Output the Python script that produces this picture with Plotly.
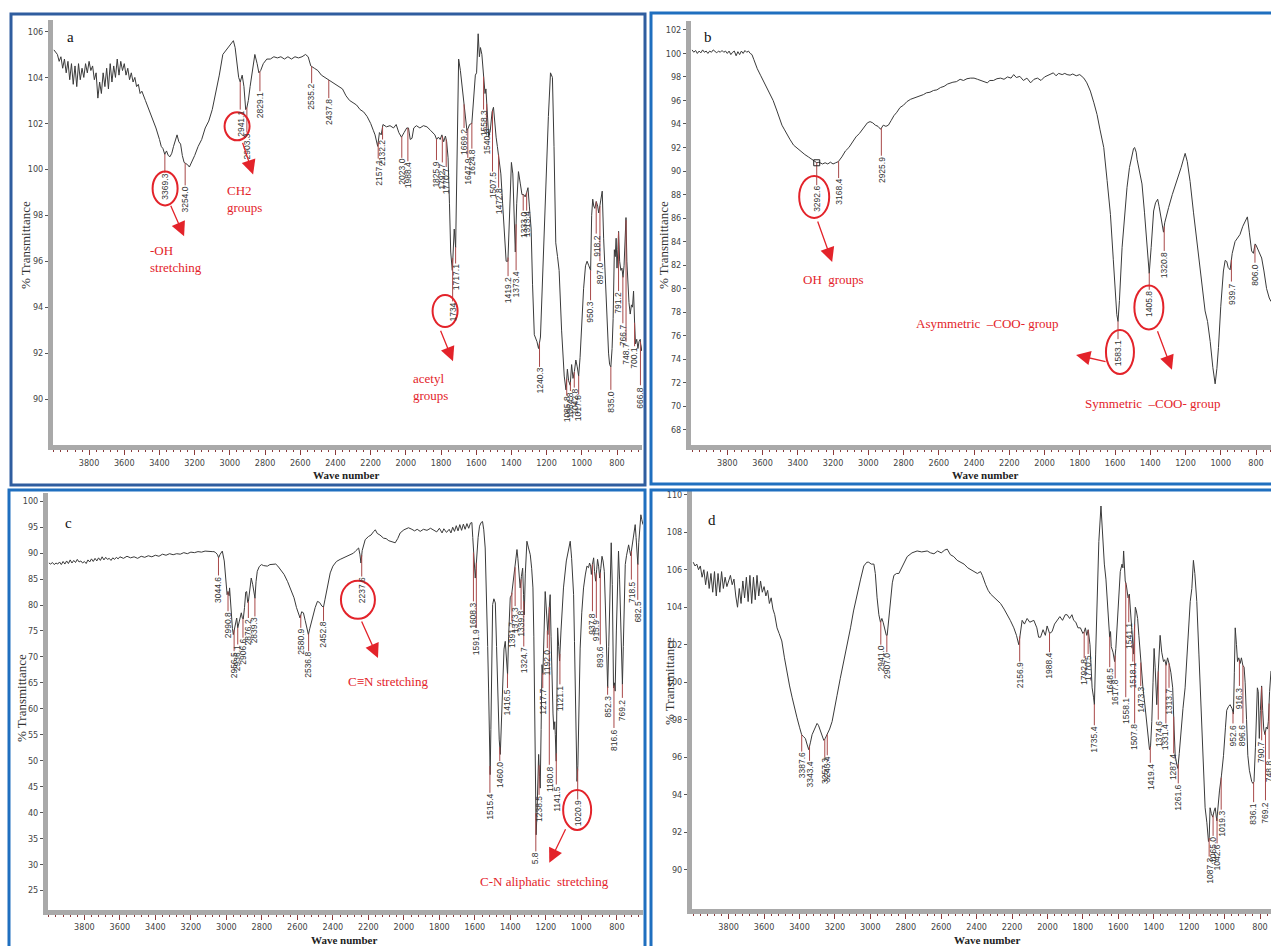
import numpy as np
import plotly.graph_objects as go

# ---------------- Panel a spectrum (wavenumber, %T) ----------------
spectrum_a = [
    (4000, 105.2), (3990, 105.1), (3980, 105.0), (3970, 104.7), (3960, 104.9), (3950, 104.4), (3940, 104.8),
    (3930, 104.2), (3920, 104.7), (3910, 103.9), (3900, 104.6), (3890, 103.7), (3880, 104.5), (3870, 103.6),
    (3860, 104.6), (3850, 103.9), (3840, 104.4), (3830, 104.0), (3820, 104.6), (3810, 104.2), (3800, 104.7),
    (3790, 104.3), (3780, 104.5), (3770, 103.9), (3760, 104.2), (3750, 103.1), (3740, 103.8), (3730, 103.3),
    (3720, 104.2), (3710, 103.6), (3700, 104.4), (3690, 103.5), (3680, 104.6), (3670, 103.8), (3660, 104.5),
    (3650, 104.0), (3640, 104.8), (3630, 104.1), (3620, 104.7), (3610, 104.3), (3600, 104.6), (3590, 104.1),
    (3580, 104.4), (3570, 103.9), (3560, 104.2), (3550, 103.8), (3540, 104.0), (3530, 103.6), (3520, 103.7),
    (3510, 103.3), (3500, 103.4), (3480, 103.0), (3460, 102.6), (3440, 102.2), (3420, 101.8), (3400, 101.3),
    (3390, 101.0), (3380, 100.9), (3370, 100.65), (3360, 100.8), (3350, 100.6), (3340, 100.55), (3330, 100.7),
    (3320, 101.0), (3310, 101.3), (3300, 101.5), (3290, 101.2), (3280, 101.1), (3270, 100.6), (3260, 100.3),
    (3250, 100.25), (3240, 100.2), (3230, 100.1), (3220, 100.25), (3200, 100.6), (3180, 101.0), (3160, 101.3),
    (3140, 101.8), (3120, 102.1), (3100, 102.6), (3080, 103.3), (3060, 104.1), (3040, 105.0), (3020, 105.2),
    (3000, 105.4), (2990, 105.5), (2980, 105.6), (2970, 105.3), (2960, 104.7), (2950, 104.0), (2941, 103.8),
    (2930, 104.1), (2920, 103.6), (2910, 102.6), (2903, 102.7), (2895, 103.0), (2885, 103.6), (2870, 104.5),
    (2858, 105.0), (2845, 104.6), (2835, 104.2), (2825, 104.3), (2810, 104.6), (2790, 104.8), (2770, 104.8),
    (2750, 104.9), (2730, 104.85), (2710, 104.9), (2690, 104.8), (2670, 104.9), (2650, 104.8), (2630, 104.9),
    (2610, 104.85), (2590, 104.9), (2570, 105.0), (2555, 104.9), (2540, 104.5), (2520, 104.4), (2500, 104.3),
    (2480, 104.1), (2460, 104.0), (2440, 103.9), (2420, 103.8), (2400, 103.7), (2380, 103.6), (2360, 103.5),
    (2340, 103.2), (2320, 103.0), (2300, 102.9), (2280, 102.8), (2260, 102.6), (2240, 102.5), (2220, 102.3),
    (2200, 102.0), (2185, 101.7), (2175, 101.5), (2160, 101.0), (2150, 101.6), (2140, 101.5), (2130, 101.95),
    (2110, 101.85), (2090, 101.9), (2070, 101.8), (2055, 101.95), (2040, 101.6), (2025, 101.4), (2010, 101.6),
    (1995, 101.8), (1985, 101.8), (1975, 101.3), (1965, 101.35), (1955, 101.8), (1940, 101.9), (1920, 101.8),
    (1900, 101.9), (1880, 101.85), (1860, 101.7), (1845, 101.6), (1835, 101.5), (1825, 101.3), (1815, 101.4),
    (1805, 101.3), (1795, 101.5), (1785, 101.2), (1775, 101.45), (1768, 101.2), (1760, 100.5), (1752, 98.5),
    (1745, 96.4), (1736, 95.6), (1730, 97.2), (1725, 97.4), (1717, 96.6), (1710, 99.5), (1700, 104.8),
    (1690, 104.3), (1680, 103.6), (1670, 102.9), (1660, 102.0), (1653, 101.7), (1645, 101.8), (1638, 101.95),
    (1625, 102.0), (1615, 103.0), (1605, 104.1), (1598, 104.2), (1589, 105.9), (1582, 104.9), (1576, 105.3),
    (1568, 105.0), (1558, 104.0), (1550, 103.3), (1545, 103.5), (1536, 102.1), (1529, 101.4), (1520, 101.7),
    (1510, 102.5), (1502, 102.7), (1495, 101.9), (1487, 101.4), (1480, 101.0), (1472, 100.6), (1460, 99.8),
    (1450, 98.5), (1440, 97.0), (1430, 96.0), (1420, 96.0), (1410, 98.0), (1400, 100.3), (1392, 99.8),
    (1385, 98.5), (1378, 96.4), (1370, 98.5), (1360, 99.9), (1350, 99.4), (1340, 98.9), (1330, 98.9),
    (1322, 98.8), (1313, 99.0), (1306, 99.2), (1298, 98.4), (1288, 97.4), (1280, 95.0), (1270, 92.8),
    (1255, 92.5), (1246, 92.2), (1235, 92.7), (1220, 96.0), (1205, 99.4), (1190, 102.3), (1178, 104.2),
    (1167, 104.0), (1158, 101.0), (1148, 96.8), (1138, 96.2), (1129, 95.6), (1115, 93.0), (1100, 91.0),
    (1090, 90.4), (1082, 91.3), (1075, 90.8), (1066, 90.6), (1058, 91.5), (1050, 90.9), (1042, 91.2),
    (1034, 91.7), (1026, 91.4), (1018, 91.0), (1010, 91.8), (1000, 93.5), (990, 94.8), (979, 95.8),
    (970, 96.0), (960, 95.8), (950, 95.6), (944, 98.0), (938, 98.7), (932, 98.4), (926, 98.3), (918, 98.6),
    (910, 98.4), (904, 98.1), (897, 98.4), (889, 98.8), (884, 99.05), (876, 97.0), (866, 95.1), (856, 93.0),
    (848, 92.0), (842, 91.5), (835, 91.4), (828, 92.2), (822, 93.5), (815, 96.5), (810, 96.2), (805, 97.0),
    (800, 95.7), (795, 96.5), (791, 97.3), (785, 96.0), (778, 95.6), (772, 95.7), (766, 95.3), (760, 95.8),
    (755, 97.0), (749, 97.9), (744, 96.0), (738, 94.9), (732, 94.2), (725, 93.7), (718, 94.1), (712, 94.0),
    (706, 94.7), (700, 93.3), (695, 92.4), (688, 92.6), (681, 92.2), (675, 92.5), (668, 92.6), (662, 92.1),
    (655, 92.4),
]
peaks_a = [3369.3, 3254.0, 2941.1, 2903.3, 2829.1, 2535.2, 2437.8, 2157.1, 2132.2, 2023.0, 1988.4, 1825.9,
           1792.7, 1770.7, 1734.0, 1717.1, 1669.2, 1647.9, 1624.8, 1558.3, 1540.8, 1507.5, 1472.8, 1419.2,
           1373.4, 1333.0, 1313.4, 1240.3, 1085.8, 1064.8, 1042.8, 1017.8, 950.3, 918.2, 897.0, 835.0,
           791.2, 766.7, 748.7, 700.1, 666.8]
peak_text_a = ["3369.3", "3254.0", "2941.1", "2903.3", "2829.1", "2535.2", "2437.8", "2157.1", "2132.2",
               "2023.0", "1988.4", "1825.9", "1792.7", "1770.7", "1734", "1717.1", "1669.2", "1647.9",
               "1624.8", "1558.3", "1540.8", "1507.5", "1472.8", "1419.2", "1373.4", "1333.0", "1313.4",
               "1240.3", "1085.8", "1064.8", "1042.8", "1017.8", "950.3", "918.2", "897.0", "835.0",
               "791.2", "766.7", "748.7", "700.1", "666.8"]

# ---------------- Panel b spectrum ----------------
spectrum_b = [
    (4000, 100.3), (3990, 100.1), (3980, 100.25), (3970, 100.0), (3960, 100.2), (3950, 100.05), (3940, 100.3),
    (3930, 100.1), (3920, 100.2), (3910, 100.0), (3900, 100.2), (3890, 100.1), (3880, 100.3), (3870, 100.15),
    (3860, 100.05), (3850, 100.2), (3840, 100.1), (3830, 100.25), (3820, 100.1), (3810, 100.2), (3800, 100.0),
    (3790, 100.2), (3780, 99.9), (3770, 100.1), (3760, 100.2), (3750, 99.8), (3740, 100.15), (3730, 99.9),
    (3720, 100.2), (3710, 100.0), (3700, 100.25), (3690, 100.1), (3680, 100.2), (3670, 100.0), (3660, 99.9),
    (3650, 99.5), (3640, 99.0), (3630, 98.7), (3610, 98.1), (3594, 97.6), (3575, 97.0), (3556, 96.5),
    (3540, 96.0), (3518, 95.1), (3505, 94.5), (3490, 93.9), (3475, 93.5), (3462, 93.1), (3445, 92.7),
    (3424, 92.2), (3400, 91.9), (3380, 91.6), (3360, 91.4), (3340, 91.2), (3320, 91.0), (3300, 90.8),
    (3292, 90.7), (3280, 90.75), (3260, 90.6), (3245, 90.7), (3230, 90.6), (3215, 90.75), (3200, 90.6),
    (3185, 90.7), (3170, 90.8), (3150, 91.2), (3130, 91.7), (3110, 92.0), (3090, 92.5), (3070, 92.9),
    (3050, 93.2), (3027, 93.7), (3005, 94.1), (2990, 94.2), (2975, 94.1), (2960, 93.9), (2945, 93.8),
    (2930, 93.55), (2915, 93.9), (2900, 93.8), (2886, 93.9), (2870, 94.3), (2855, 94.7), (2838, 95.0),
    (2820, 95.4), (2800, 95.6), (2781, 95.9), (2760, 96.1), (2740, 96.2), (2720, 96.35), (2700, 96.45),
    (2687, 96.5), (2670, 96.65), (2650, 96.7), (2630, 96.85), (2611, 96.9), (2590, 97.1), (2570, 97.2),
    (2550, 97.4), (2536, 97.5), (2520, 97.55), (2500, 97.6), (2479, 97.8), (2460, 97.7), (2440, 97.85),
    (2420, 97.9), (2400, 97.9), (2380, 97.8), (2360, 97.7), (2340, 97.6), (2325, 97.5), (2310, 97.7),
    (2290, 97.7), (2270, 97.85), (2249, 97.9), (2230, 97.8), (2210, 98.0), (2190, 97.9), (2175, 98.2),
    (2160, 97.95), (2140, 98.05), (2120, 97.7), (2100, 97.9), (2079, 97.5), (2060, 97.8), (2040, 97.9),
    (2020, 97.7), (2000, 98.0), (1985, 98.1), (1966, 98.2), (1950, 98.35), (1935, 98.1), (1920, 98.3),
    (1900, 98.2), (1885, 98.3), (1872, 98.2), (1855, 98.15), (1840, 98.25), (1820, 98.1), (1800, 98.2),
    (1785, 98.0), (1777, 97.9), (1760, 97.5), (1750, 97.1), (1740, 96.8), (1720, 95.8), (1702, 94.8),
    (1685, 93.5), (1664, 92.0), (1645, 89.2), (1626, 86.3), (1610, 82.5), (1598, 79.3), (1590, 77.8),
    (1583, 77.2), (1575, 79.0), (1560, 83.5), (1545, 86.5), (1532, 88.6), (1518, 90.3), (1504, 91.4),
    (1495, 91.9), (1489, 92.0), (1480, 91.6), (1475, 91.0), (1466, 90.3), (1456, 89.7), (1447, 88.9),
    (1433, 86.5), (1419, 83.5), (1406, 81.3), (1395, 83.5), (1381, 86.6), (1370, 87.3), (1358, 87.6),
    (1350, 87.0), (1343, 86.3), (1335, 85.5), (1325, 84.8), (1318, 85.6), (1308, 86.3), (1296, 86.9),
    (1275, 88.0), (1249, 89.1), (1225, 90.3), (1210, 91.1), (1202, 91.5), (1190, 90.8), (1174, 89.1),
    (1155, 86.5), (1136, 84.0), (1115, 81.2), (1100, 79.4), (1089, 78.1), (1075, 77.2), (1060, 75.5),
    (1045, 73.3), (1032, 71.9), (1022, 73.2), (1013, 75.0), (1000, 78.5), (985, 81.5), (975, 82.4),
    (966, 82.3), (958, 81.8), (947, 81.6), (935, 83.0), (919, 84.0), (905, 84.3), (891, 84.6), (875, 85.3),
    (860, 85.8), (849, 86.1), (838, 84.8), (825, 83.2), (815, 83.0), (805, 83.8), (800, 83.7), (785, 83.2),
    (768, 82.6), (755, 81.5), (740, 80.0), (725, 79.2), (715, 78.9),
]
peaks_b = [3292.6, 3168.4, 2925.9, 1583.1, 1405.8, 1320.8, 939.7, 806.0]
peak_text_b = ["3292.6", "3168.4", "2925.9", "1583.1", "1405.8", "1320.8", "939.7", "806.0"]

# ---------------- Panel c spectrum ----------------
spectrum_c = [
    (4000, 88.1), (3990, 87.9), (3980, 88.2), (3970, 87.8), (3960, 88.1), (3950, 87.9), (3940, 88.3),
    (3930, 87.8), (3920, 88.4), (3910, 87.9), (3900, 88.5), (3890, 88.0), (3880, 88.7), (3870, 88.1),
    (3860, 88.6), (3850, 88.2), (3840, 88.8), (3830, 88.3), (3820, 88.5), (3810, 88.1), (3800, 88.4),
    (3790, 88.0), (3780, 88.7), (3770, 88.3), (3760, 88.9), (3750, 88.4), (3740, 89.0), (3730, 88.5),
    (3720, 89.1), (3710, 88.6), (3700, 89.3), (3690, 88.7), (3680, 89.2), (3670, 88.8), (3660, 89.0),
    (3650, 88.6), (3640, 89.1), (3630, 88.8), (3620, 89.2), (3610, 88.9), (3600, 89.3), (3580, 89.0),
    (3560, 89.4), (3540, 89.1), (3520, 89.3), (3500, 89.0), (3480, 89.4), (3460, 89.2), (3440, 89.5),
    (3420, 89.3), (3400, 89.6), (3380, 89.4), (3360, 89.8), (3340, 89.6), (3320, 89.9), (3300, 89.7),
    (3280, 89.9), (3260, 89.8), (3240, 90.1), (3220, 89.9), (3200, 90.2), (3180, 90.1), (3160, 90.3),
    (3140, 90.2), (3120, 90.4), (3100, 90.3), (3080, 90.3), (3070, 90.3), (3060, 90.1), (3050, 89.7),
    (3044, 89.1), (3035, 89.8), (3023, 90.4), (3012, 88.5), (3004, 85.9), (2996, 82.0), (2991, 82.6),
    (2985, 81.8), (2982, 83.3), (2976, 79.5), (2972, 78.1), (2966, 75.5), (2961, 74.3), (2955, 75.5),
    (2948, 76.2), (2942, 77.5), (2936, 75.6), (2929, 76.5), (2922, 77.2), (2916, 78.5), (2910, 77.5),
    (2905, 77.3), (2898, 79.5), (2891, 82.5), (2886, 82.6), (2880, 80.5), (2876, 80.7), (2868, 83.5),
    (2860, 85.2), (2852, 84.0), (2845, 82.0), (2839, 81.3), (2833, 84.5), (2826, 86.5), (2815, 87.4),
    (2803, 87.8), (2790, 87.6), (2775, 87.6), (2769, 87.5), (2755, 87.8), (2740, 87.9), (2722, 87.9),
    (2710, 87.5), (2695, 86.8), (2675, 85.9), (2655, 84.5), (2640, 83.2), (2619, 81.4), (2605, 79.5),
    (2592, 78.0), (2585, 77.5), (2576, 78.7), (2566, 78.5), (2556, 77.0), (2545, 75.0), (2538, 74.3),
    (2530, 75.5), (2516, 77.5), (2500, 79.5), (2487, 80.7), (2475, 80.5), (2462, 79.8), (2453, 79.6),
    (2445, 81.0), (2430, 83.5), (2415, 86.2), (2400, 87.5), (2380, 88.4), (2359, 88.8), (2335, 89.2),
    (2310, 89.5), (2284, 90.0), (2270, 90.5), (2255, 91.0), (2248, 89.8), (2242, 88.1), (2235, 90.5),
    (2218, 92.6), (2200, 93.2), (2185, 93.5), (2170, 94.2), (2161, 94.5), (2150, 93.8), (2135, 93.5),
    (2115, 92.9), (2100, 92.8), (2085, 92.4), (2065, 92.2), (2049, 92.0), (2035, 92.8), (2021, 93.9),
    (2000, 94.5), (1974, 94.9), (1955, 94.6), (1940, 94.3), (1925, 94.6), (1908, 94.2), (1890, 94.6),
    (1870, 94.4), (1850, 94.8), (1833, 94.5), (1815, 94.1), (1800, 94.8), (1785, 93.9), (1775, 94.7),
    (1760, 94.0), (1745, 94.6), (1735, 93.9), (1725, 95.0), (1715, 94.2), (1705, 95.3), (1695, 94.3),
    (1685, 95.5), (1675, 94.4), (1665, 95.6), (1655, 94.6), (1645, 95.7), (1635, 94.8), (1625, 95.8),
    (1617, 95.9), (1612, 93.0), (1607, 89.1), (1603, 87.5), (1598, 85.2), (1594, 87.0), (1589, 89.7),
    (1582, 93.0), (1574, 95.2), (1565, 95.9), (1557, 96.1), (1550, 94.5), (1542, 91.0), (1535, 83.0),
    (1528, 72.0), (1523, 64.0), (1518, 52.0), (1514, 47.3), (1510, 56.0), (1505, 70.0), (1500, 80.1),
    (1493, 81.2), (1485, 80.4), (1478, 72.0), (1470, 60.8), (1463, 54.0), (1457, 51.2), (1450, 58.0),
    (1442, 67.9), (1436, 71.5), (1429, 73.0), (1422, 69.0), (1416, 66.6), (1410, 74.0), (1401, 81.4),
    (1393, 82.0), (1386, 83.9), (1377, 85.9), (1370, 88.5), (1363, 90.7), (1358, 89.0), (1354, 87.1),
    (1349, 85.0), (1345, 83.3), (1338, 85.5), (1331, 87.1), (1326, 82.0), (1322, 78.1), (1316, 86.0),
    (1307, 92.3), (1298, 91.0), (1288, 89.7), (1280, 87.0), (1273, 83.3), (1268, 74.0), (1264, 64.0),
    (1259, 45.0), (1255, 35.7), (1250, 40.0), (1245, 48.0), (1241, 51.2), (1236, 47.0), (1232, 44.7),
    (1227, 56.0), (1222, 68.5), (1217, 66.6), (1210, 76.0), (1204, 82.6), (1199, 80.0), (1194, 75.6),
    (1189, 74.3), (1183, 78.5), (1176, 82.0), (1171, 74.0), (1166, 64.0), (1160, 59.0), (1155, 56.0),
    (1150, 57.5), (1147, 55.0), (1142, 49.9), (1138, 62.0), (1134, 75.6), (1128, 72.0), (1123, 69.2),
    (1115, 75.0), (1101, 83.3), (1085, 88.5), (1070, 91.5), (1063, 92.3), (1055, 89.0), (1049, 86.0),
    (1044, 82.0), (1039, 73.0), (1035, 65.3), (1030, 55.0), (1025, 46.0), (1020, 49.0), (1016, 57.6),
    (1011, 65.0), (1007, 71.7), (998, 78.5), (988, 83.3), (978, 85.8), (969, 87.5), (960, 87.2),
    (954, 88.1), (948, 87.5), (944, 85.9), (938, 87.8), (931, 89.1), (926, 86.5), (920, 84.6), (914, 86.8),
    (909, 88.8), (903, 87.5), (897, 85.2), (891, 87.0), (884, 89.4), (878, 88.5), (871, 86.5), (865, 80.0),
    (858, 70.0), (852, 64.0), (846, 72.0), (840, 84.0), (832, 92.0), (826, 84.0), (822, 72.0), (819, 64.0),
    (814, 65.0), (810, 63.4), (803, 75.0), (797, 86.0), (791, 90.4), (785, 85.0), (779, 75.0), (772, 65.0),
    (769, 64.7), (764, 72.0), (759, 82.0), (753, 87.8), (746, 89.5), (740, 91.0), (734, 91.6), (728, 90.5),
    (722, 89.5), (716, 91.0), (709, 93.0), (703, 94.5), (697, 95.5), (692, 93.0), (686, 89.0), (682, 87.8),
    (677, 92.0), (672, 95.0), (665, 97.4), (660, 96.5), (653, 95.5),
]
peaks_c = [3044.6, 2990.8, 2956.5, 2936.1, 2906.6, 2876.2, 2839.3, 2580.9, 2536.8, 2452.8, 2237.6, 1608.3,
           1591.9, 1515.4, 1460.0, 1416.5, 1391.7, 1373.3, 1339.8, 1324.7, 1256.8, 1238.5, 1217.7, 1192.0,
           1180.8, 1141.5, 1121.1, 1020.9, 937.8, 915.9, 893.6, 852.3, 816.6, 769.2, 718.5, 682.5]
peak_text_c = ["3044.6", "2990.8", "2956.5", "2936.1", "2906.6", "2876.2", "2839.3", "2580.9", "2536.8",
               "2452.8", "2237.6", "1608.3", "1591.9", "1515.4", "1460.0", "1416.5", "1391.7", "1373.3",
               "1339.8", "1324.7", "5.8", "1238.5", "1217.7", "1192.0", "1180.8", "1141.5", "1121.1",
               "1020.9", "937.8", "915.9", "893.6", "852.3", "816.6", "769.2", "718.5", "682.5"]

# ---------------- Panel d spectrum ----------------
spectrum_d = [
    (4000, 106.4), (3990, 106.2), (3980, 106.3), (3970, 106.0), (3960, 106.2), (3950, 105.6), (3940, 106.0),
    (3930, 105.2), (3920, 105.9), (3910, 105.0), (3900, 105.8), (3890, 104.8), (3880, 105.9), (3870, 104.6),
    (3860, 105.8), (3850, 104.8), (3840, 105.9), (3830, 105.0), (3820, 105.6), (3810, 105.1), (3800, 105.4),
    (3790, 105.7), (3780, 105.2), (3770, 105.5), (3760, 104.6), (3750, 104.0), (3740, 105.0), (3730, 104.2),
    (3720, 105.4), (3710, 104.5), (3700, 105.6), (3690, 104.3), (3680, 105.7), (3670, 104.2), (3660, 105.6),
    (3650, 104.4), (3640, 105.7), (3630, 104.6), (3620, 105.4), (3610, 104.8), (3600, 105.1), (3590, 104.6),
    (3580, 104.9), (3570, 104.2), (3560, 104.5), (3550, 103.9), (3540, 103.6), (3527, 102.9), (3515, 102.6),
    (3500, 102.2), (3485, 101.3), (3470, 100.4), (3456, 99.8), (3442, 99.2), (3428, 98.6), (3414, 98.1),
    (3400, 97.6), (3388, 97.2), (3378, 97.1), (3367, 97.0), (3358, 96.7), (3348, 96.4), (3338, 96.8),
    (3329, 97.2), (3315, 97.5), (3301, 97.8), (3293, 97.7), (3286, 97.5), (3275, 97.2), (3263, 96.9),
    (3255, 97.0), (3244, 97.2), (3230, 97.5), (3216, 97.9), (3200, 98.6), (3188, 99.3), (3170, 100.2),
    (3150, 101.1), (3130, 102.0), (3112, 102.9), (3095, 103.8), (3075, 104.7), (3055, 105.5), (3037, 106.2),
    (3020, 106.4), (3009, 106.4), (2995, 106.3), (2980, 106.3), (2972, 105.8), (2962, 104.5), (2952, 103.6),
    (2943, 103.2), (2935, 103.4), (2928, 103.2), (2918, 102.8), (2910, 102.5), (2905, 102.5), (2896, 103.4),
    (2886, 104.5), (2876, 105.3), (2867, 105.7), (2852, 105.8), (2839, 105.8), (2815, 106.3), (2792, 106.7),
    (2765, 106.9), (2736, 107.0), (2710, 106.95), (2679, 107.0), (2660, 106.9), (2641, 106.85), (2620, 107.0),
    (2600, 106.9), (2580, 107.05), (2566, 107.1), (2548, 106.8), (2529, 106.7), (2510, 106.5), (2491, 106.4),
    (2471, 106.3), (2450, 106.1), (2430, 106.0), (2410, 105.9), (2396, 105.8), (2378, 105.9), (2368, 105.7),
    (2349, 105.2), (2335, 104.9), (2321, 104.7), (2300, 104.5), (2280, 104.3), (2265, 104.2), (2245, 103.9),
    (2227, 103.6), (2210, 103.3), (2190, 102.9), (2175, 102.5), (2162, 102.0), (2155, 102.6), (2143, 103.3),
    (2130, 103.1), (2115, 103.4), (2100, 103.2), (2077, 103.3), (2060, 102.9), (2050, 102.4), (2039, 102.4),
    (2025, 102.8), (2012, 102.5), (2002, 103.0), (1988, 102.6), (1974, 102.7), (1960, 103.1), (1946, 103.3),
    (1930, 103.5), (1915, 103.3), (1900, 103.6), (1889, 103.6), (1875, 103.4), (1862, 103.6), (1852, 103.3),
    (1840, 103.2), (1828, 102.9), (1814, 102.9), (1800, 102.6), (1792, 102.7), (1786, 102.9), (1778, 102.5),
    (1770, 102.8), (1760, 102.0), (1748, 99.7), (1740, 99.2), (1735, 98.8), (1728, 101.5), (1720, 104.5),
    (1710, 107.5), (1698, 109.4), (1690, 108.0), (1679, 106.3), (1670, 105.5), (1664, 104.7), (1655, 103.2),
    (1649, 102.4), (1644, 102.7), (1640, 101.9), (1630, 101.6), (1621, 101.1), (1614, 101.8), (1608, 102.7),
    (1600, 104.2), (1589, 105.9), (1579, 106.3), (1574, 106.1), (1570, 107.0), (1565, 106.0), (1561, 105.4),
    (1555, 105.2), (1551, 105.0), (1545, 104.5), (1538, 104.7), (1532, 103.8), (1527, 103.1), (1520, 102.3),
    (1514, 101.5), (1509, 102.8), (1504, 104.0), (1498, 103.8), (1491, 103.4), (1484, 102.5), (1476, 101.5),
    (1470, 100.5), (1461, 99.7), (1450, 98.8), (1439, 97.9), (1430, 97.0), (1424, 96.4), (1418, 96.6),
    (1411, 97.9), (1404, 100.0), (1398, 101.8), (1392, 100.8), (1387, 99.6), (1383, 98.8), (1375, 100.5),
    (1364, 102.5), (1355, 101.6), (1345, 101.1), (1338, 101.2), (1330, 100.9), (1322, 101.3), (1316, 101.1),
    (1311, 100.9), (1303, 100.5), (1293, 99.7), (1285, 97.5), (1279, 96.1), (1270, 95.6), (1264, 95.4),
    (1256, 96.2), (1245, 97.6), (1235, 98.6), (1223, 99.7), (1210, 102.0), (1194, 104.3), (1185, 105.0),
    (1176, 106.5), (1168, 105.8), (1157, 104.3), (1145, 101.5), (1129, 97.9), (1118, 95.0), (1110, 93.3),
    (1100, 92.5), (1091, 91.5), (1087, 91.7), (1082, 93.3), (1075, 93.0), (1067, 92.8), (1060, 93.1),
    (1053, 93.3), (1044, 92.6), (1036, 93.5), (1029, 94.2), (1018, 95.0), (1006, 96.1), (995, 97.6),
    (988, 98.5), (978, 98.7), (969, 98.8), (958, 98.6), (950, 98.3), (945, 100.5), (940, 102.9), (933, 102.0),
    (927, 101.1), (920, 101.3), (912, 101.0), (905, 101.3), (897, 100.9), (890, 100.8), (884, 100.0),
    (876, 98.0), (869, 96.1), (860, 95.3), (847, 94.7), (840, 94.6), (834, 94.7), (826, 96.5), (815, 99.7),
    (810, 99.5), (804, 97.0), (798, 98.5), (791, 99.8), (785, 98.5), (779, 97.5), (772, 97.2), (765, 97.6),
    (758, 97.5), (753, 97.9), (746, 99.5), (738, 100.6),
]
peaks_d = [3387.6, 3343.4, 3257.3, 3243.4, 2941.0, 2907.0, 2156.9, 1988.4, 1792.8, 1770.5, 1735.4, 1648.5,
           1617.8, 1558.1, 1541.1, 1518.1, 1507.8, 1473.3, 1419.4, 1374.6, 1331.4, 1313.7, 1287.4, 1261.6,
           1087.3, 1065.0, 1042.6, 1019.3, 952.6, 916.3, 896.6, 836.1, 790.7, 769.2, 748.8]
peak_text_d = ["3387.6", "3343.4", "3257.3", "3243.4", "2941.0", "2907.0", "2156.9", "1988.4", "1792.8",
               "1770.5", "1735.4", "1648.5", "1617.8", "1558.1", "1541.1", "1518.1", "1507.8", "1473.3",
               "1419.4", "1374.6", "1331.4", "1313.7", "1287.4", "1261.6", "1087.3", "1065.0", "1042.6",
               "1019.3", "952.6", "916.3", "896.6", "836.1", "790.7", "769.2", "748.8"]

x_tick_vals = [3800, 3600, 3400, 3200, 3000, 2800, 2600, 2400, 2200, 2000, 1800, 1600, 1400, 1200, 1000, 800]

# ---------------- layout (positions / styles) ----------------
label_top_a = [99.85, 99.3, 102.6, 101.6, 103.4, 103.75, 103.1, 100.47, 101.3, 100.5, 100.35, 100.4, 100.3,
               100.1, 94.25, 95.9, 101.8, 100.5, 100.9, 102.6, 101.8, 99.9, 99.2, 95.35, 95.6, 98.2, 98.2,
               91.4, 90.15, 90.35, 90.5, 90.2, 94.3, 97.2, 96.0, 90.4, 94.7, 93.3, 92.5, 92.3, 90.6]
label_top_b = [88.8, 89.4, 91.3, 75.7, 79.9, 83.2, 80.6, 82.2]
label_top_c = [85.7, 78.8, 71.1, 72.4, 73.7, 77.5, 77.8, 75.6, 71.1, 76.9, 85.5, 80.7, 75.6, 43.8, 49.9,
               64.0, 76.9, 79.8, 79.1, 72.0, 32.5, 43.4, 64.0, 71.7, 49.2, 45.4, 64.7, 42.5, 78.8, 77.5,
               72.4, 62.7, 56.3, 62.1, 84.9, 81.0]
label_top_d = [96.3, 95.8, 96.0, 96.1, 102.0, 101.6, 101.1, 101.6, 101.3, 101.5, 97.7, 100.8, 100.2, 99.2,
               103.2, 101.1, 97.8, 99.8, 95.7, 98.0, 97.8, 99.7, 96.2, 94.6, 90.7, 91.8, 91.4, 93.2, 97.8,
               99.8, 97.8, 93.6, 96.9, 93.7, 95.9]

W, H = 1271, 946
panels = {
    1: dict(spec=spectrum_a, peaks=peaks_a, texts=peak_text_a, tops=label_top_a,
            xdom=[53 / W, 642 / W], ydom=[1 - 445 / H, 1 - 20 / H], xr=[4005, 658], yr=[88.0, 106.5],
            yt=list(range(90, 107, 2))),
    2: dict(spec=spectrum_b, peaks=peaks_b, texts=peak_text_b, tops=label_top_b,
            xdom=[691 / W, 1.0], ydom=[1 - 445 / H, 1 - 20.5 / H], xr=[4006, 715], yr=[66.7, 102.8],
            yt=list(range(68, 103, 2))),
    3: dict(spec=spectrum_c, peaks=peaks_c, texts=peak_text_c, tops=label_top_c,
            xdom=[48 / W, 643 / W], ydom=[1 - 909.5 / H, 1 - 493 / H], xr=[4005, 653], yr=[21.3, 101.6],
            yt=list(range(25, 101, 5))),
    4: dict(spec=spectrum_d, peaks=peaks_d, texts=peak_text_d, tops=label_top_d,
            xdom=[692 / W, 1.0], ydom=[1 - 909 / H, 1 - 491 / H], xr=[4007, 738], yr=[87.9, 110.2],
            yt=list(range(90, 111, 2))),
}

RED = "#e3232a"
SERIF = "Liberation Serif, Times New Roman, serif"
TICKFONT = dict(family="Liberation Sans Narrow, Arial Narrow, DejaVu Sans Condensed, Liberation Sans, sans-serif",
                size=9, color="#444444")
LABELFONT = dict(family="Liberation Sans, Arial, sans-serif", size=8.5, color="#333333")

fig = go.Figure()
layout_axes = {}
for k, p in panels.items():
    xa = "x" if k == 1 else f"x{k}"
    ya = "y" if k == 1 else f"y{k}"
    wn = [s[0] for s in p["spec"]]
    tr = [s[1] for s in p["spec"]]
    fig.add_trace(go.Scatter(x=wn, y=tr, xaxis=xa, yaxis=ya, mode="lines",
                             line=dict(color="#3a3a3a", width=1), hoverinfo="skip", showlegend=False))
    xs_inc = np.array(wn, dtype=float)[::-1]
    ys_inc = np.array(tr, dtype=float)[::-1]
    lx, ly = [], []
    for pk, txt, top in zip(p["peaks"], p["texts"], p["tops"]):
        yc = float(np.interp(pk, xs_inc, ys_inc))
        lx += [pk, pk, None]
        ly += [yc, top, None]
        fig.add_annotation(x=pk, y=top, xref=xa, yref=ya, text=txt, textangle=-90, showarrow=False,
                           xanchor="center", yanchor="top", font=LABELFONT, borderpad=0)
    fig.add_trace(go.Scatter(x=lx, y=ly, xaxis=xa, yaxis=ya, mode="lines",
                             line=dict(color="#a84848", width=1), hoverinfo="skip", showlegend=False))
    xname = "xaxis" if k == 1 else f"xaxis{k}"
    yname = "yaxis" if k == 1 else f"yaxis{k}"
    layout_axes[xname] = dict(domain=p["xdom"], range=p["xr"], anchor=ya, tickmode="array",
                              tickvals=x_tick_vals, ticks="outside", ticklen=5, tickcolor="#8b3a3a",
                              minor=dict(tickmode="linear", tick0=0, dtick=40, ticks="outside", ticklen=2,
                                         tickcolor="#8b3a3a"),
                              showline=True, linecolor="#a9a9a9", linewidth=5, showgrid=False,
                              zeroline=False, tickfont=TICKFONT)
    layout_axes[yname] = dict(domain=p["ydom"], range=p["yr"], anchor=xa, tickmode="array",
                              tickvals=p["yt"], ticks="outside", ticklen=3, tickcolor="#555555",
                              showline=True, linecolor="#a9a9a9", linewidth=5, showgrid=False,
                              zeroline=False, tickfont=TICKFONT)

    # axis titles
    fig.add_annotation(x=2340, xref=xa, y=(1 - 475 / H) if k <= 2 else (1 - 940 / H), yref="paper",
                       text="<b>Wave number</b>", showarrow=False, xanchor="center", yanchor="middle",
                       font=dict(family=SERIF, size=11, color="#222222"))

ytitle_pos = {1: (26, 245), 2: (664, 245), 3: (21, 698), 4: (669, 681)}
for k, (px, py) in ytitle_pos.items():
    fig.add_annotation(x=px / W, y=1 - py / H, xref="paper", yref="paper", text="% Transmittance",
                       textangle=-90, showarrow=False, xanchor="center", yanchor="middle",
                       font=dict(family=SERIF, size=13, color="#333333"))

letter_pos = {"a": (70, 37), "b": (708, 37), "c": (68, 523), "d": (712, 520)}
for t, (px, py) in letter_pos.items():
    fig.add_annotation(x=px / W, y=1 - py / H, xref="paper", yref="paper", text=t, showarrow=False,
                       xanchor="center", yanchor="middle", font=dict(family=SERIF, size=15, color="#111111"))

# red explanatory texts (xref, yref, x, y, text)
red_texts = [
    ("x", "y", 3465, 96.9, "-OH<br>stretching"),
    ("x", "y", 3027, 99.5, "CH2<br>groups"),
    ("x", "y", 1970, 91.3, "acetyl<br>groups"),
    ("x2", "y2", 3380, 81.6, "OH  groups"),
    ("x2", "y2", 2740, 77.8, "Asymmetric  \u2013COO- group"),
    ("x2", "y2", 1782, 71.0, "Symmetric  \u2013COO- group"),
    ("x3", "y3", 2327, 67.1, "C\u2261N stretching"),
    ("x3", "y3", 1582, 28.5, "C-N aliphatic  stretching"),
]
for xr_, yr_, x, y, t in red_texts:
    fig.add_annotation(x=x, y=y, xref=xr_, yref=yr_, text=t, showarrow=False, xanchor="left",
                       yanchor="top", align="left", font=dict(family=SERIF, size=13, color=RED))

# red ellipses (axis, center x, center y, rx px, ry px)
ellipses = [
    ("x", "y", 3368, 99.17, 12.5, 17), ("x", "y", 2959, 101.87, 12.5, 14), ("x", "y", 1777, 93.83, 12.5, 16),
    ("x2", "y2", 3307, 87.8, 15, 21), ("x2", "y2", 1572, 74.6, 14, 22), ("x2", "y2", 1408, 78.4, 14.5, 22),
    ("x3", "y3", 2259, 81.0, 17, 19), ("x3", "y3", 1024, 40.5, 14, 20),
]
for xr_, yr_, cx, cy, rx, ry in ellipses:
    fig.add_shape(type="circle", xref=xr_, yref=yr_, xsizemode="pixel", ysizemode="pixel",
                  xanchor=cx, yanchor=cy, x0=-rx, x1=rx, y0=-ry, y1=ry,
                  line=dict(color=RED, width=2))

# red arrows (axis, head x, head y, tail offset px)
arrows = [
    ("x", "y", 3260, 97.09, -14, -32), ("x", "y", 2868, 99.78, -11, -33), ("x", "y", 1732, 91.65, -13, -32),
    ("x2", "y2", 3205, 82.27, -15, -42), ("x2", "y2", 1821, 74.36, 31, 7), ("x2", "y2", 1277, 73.1, -15, -40),
    ("x3", "y3", 2146, 69.8, -17, -38), ("x3", "y3", 1181, 30.3, 17, -35),
]
for xr_, yr_, hx, hy, axp, ayp in arrows:
    fig.add_annotation(x=hx, y=hy, xref=xr_, yref=yr_, ax=axp, ay=ayp, text="", showarrow=True,
                       arrowhead=2, arrowsize=2.2, arrowwidth=1.3, arrowcolor=RED, standoff=0)

# small square marker at 3292.6 (panel b)
fig.add_trace(go.Scatter(x=[3292.6], y=[90.7], xaxis="x2", yaxis="y2", mode="markers",
                         marker=dict(symbol="square-open", size=6, color="#222222", line=dict(width=1)),
                         hoverinfo="skip", showlegend=False))

# blue panel frames (paper coords in px)
frames = [(11, 14, 645, 485, "#2f5d9f"), (651, 13, 1276, 484, "#1f6fbf"),
          (9, 490, 645, 951, "#1f6fbf"), (651, 490, 1276, 951, "#1f6fbf")]
for x0, y0, x1, y1, c in frames:
    fig.add_shape(type="rect", xref="paper", yref="paper", x0=x0 / W, x1=x1 / W, y0=1 - y1 / H, y1=1 - y0 / H,
                  line=dict(color=c, width=3), layer="above")

fig.update_layout(width=W, height=H, margin=dict(l=0, r=0, t=0, b=0), paper_bgcolor="white",
                  plot_bgcolor="white", showlegend=False, **layout_axes)

fig.write_html("out.html", config={"displayModeBar": False},
               post_script="document.body.style.margin='0';document.body.style.padding='0';"
                           "document.documentElement.style.overflow='hidden';")
